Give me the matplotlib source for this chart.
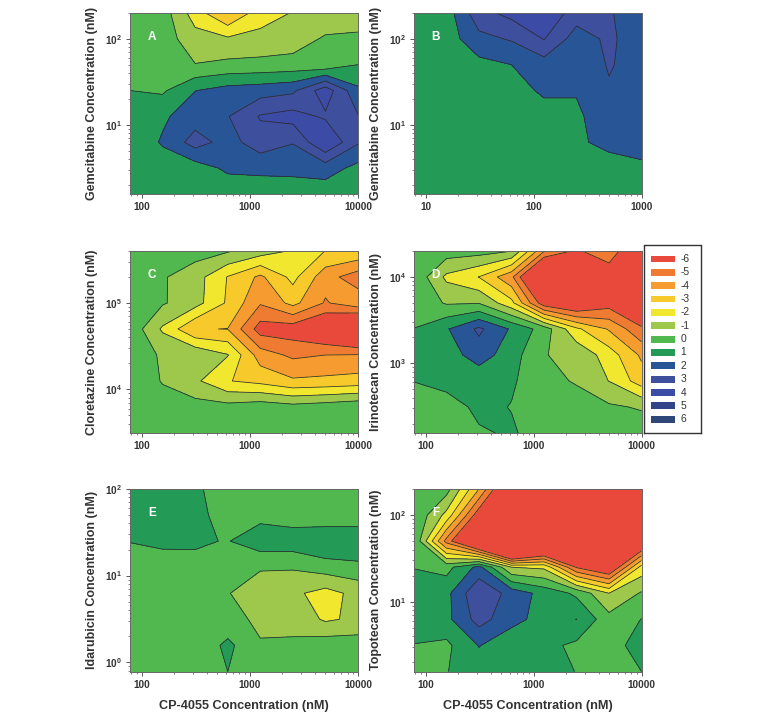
#!/usr/bin/env python3

import numpy as np
import matplotlib
matplotlib.use("Agg")
import matplotlib.pyplot as plt
from matplotlib.patches import Rectangle
from matplotlib.scale import InvertedLogTransform
from matplotlib.ticker import NullFormatter
from matplotlib.transforms import blended_transform_factory

plt.rcParams["font.family"] = ["Liberation Sans", "DejaVu Sans"]
plt.rcParams["mathtext.fontset"] = "custom"
plt.rcParams["mathtext.rm"] = "Liberation Sans:bold"
plt.rcParams["mathtext.bf"] = "Liberation Sans:bold"

cp4055 = [78, 156, 312, 625, 1250, 2500, 5000, 10000]
cp4055_b = [7.8, 15.6, 31.25, 62.5, 125, 250, 500, 1000]

gem_y = [200, 100, 50, 25, 12.5, 6.25, 3.125, 1.56]
clor_y = [400000, 200000, 100000, 50000, 25000, 12500, 6250, 3125]
iri_y = [20000, 10000, 5000, 2500, 1250, 625, 312, 156]
ida_y = [100, 50, 25, 12.5, 6.25, 3.125, 1.56, 0.78]
topo_y = [200, 100, 50, 25, 12.5, 6.25, 3.125, 1.56]

z_a = [
    [0.5, 0.5, -1.5, -3.05, -1.45, -0.95, -0.7, -0.5],
    [0.6, 0.5, -0.6, -0.85, -0.7, -0.5, 0.13, 0.18],
    [0.7, 0.65, 0.03, 0.24, 0.3, 0.38, 0.25, 1.0],
    [1.0, 0.85, 1.98, 2.4, 2.55, 2.8, 4.6, 2.2],
    [1.2, 1.85, 2.5, 2.95, 4.09, 4.4, 3.85, 3.05],
    [1.3, 2.1, 3.44, 2.6, 3.55, 3.05, 5.0, 3.1],
    [1.3, 1.5, 1.5, 2.2, 2.25, 2.3, 2.47, 1.7],
    [1.2, 1.3, 1.3, 1.3, 1.4, 1.4, 1.4, 1.25],
]
z_b = [
    [1.3, 1.5, 3.67, 4.3, 4.9, 3.47, 3.1, 2.4],
    [1.3, 1.5, 2.7, 3.1, 4.05, 2.53, 3.19, 2.43],
    [1.3, 1.3, 1.7, 2.0, 2.55, 2.3, 3.08, 2.6],
    [1.3, 1.3, 1.3, 1.5, 2.2, 2.1, 2.9, 2.7],
    [1.3, 1.3, 1.3, 1.3, 1.5, 1.75, 2.84, 2.7],
    [1.3, 1.3, 1.3, 1.3, 1.4, 1.7, 2.5, 2.5],
    [1.3, 1.3, 1.3, 1.3, 1.3, 1.3, 1.2, 1.76],
    [1.3, 1.3, 1.3, 1.3, 1.3, 1.3, 1.3, 1.3],
]
z_c = [
    [0.9, 0.9, 0.4, 0.1, -0.5, -1.1, -2.02, -2.17],
    [0.8, 0.1, -0.55, -2.05, -3.2, -1.7, -3.6, -4.55],
    [0.7, 0.1, -0.6, -2.15, -3.9, -2.7, -4.1, -3.33],
    [0.7, -1.15, -2.95, -3.02, -5.47, -5.6, -6.47, -7.65],
    [0.5, -0.11, -0.15, -0.95, -3.5, -4.2, -4.0, -3.95],
    [0.7, -0.06, -0.8, -1.95, -2.3, -2.85, -2.75, -2.6],
    [0.9, 0.4, 0.4, 0.35, 0.6, 0.35, 0.55, 0.8],
    [0.9, 0.8, 0.8, 0.8, 0.8, 0.8, 0.8, 0.85],
]
z_d = [
    [0.7, 0.5, 0.4, 0.02, -3.9, -5.2, -4.1, -7],
    [0.8, -1.22, -2.02, -3.76, -8.5, -9, -6.05, -8],
    [0.7, -0.1, -0.05, -1.7, -5.7, -6.5, -5.5, -7],
    [1.01, 1.9, 3.2, 1.87, 0.55, -1.8, -3.1, -4.8],
    [1.5, 1.5, 2.5, 1.45, 0.03, -0.2, -1.5, -3.17],
    [1.02, 1.3, 1.28, 1.1, 0.5, -0.15, -1.02, -2.5],
    [0.5, 0.6, 1.2, 0.97, 0.6, 0.75, 0.15, -0.1],
    [0.6, 0.6, 0.9, 1.1, 0.6, 0.6, 0.6, 0.6],
]
z_e = [
    [1.5, 1.5, 1.2, 0.4, 0.5, 0.5, 0.5, 0.5],
    [1.6, 1.6, 1.4, 0.42, 0.7, 0.45, 0.2, 0.2],
    [1.03, 1.3, 1.12, 0.95, 1.6, 1.6, 2.0, 2.0],
    [0.5, 0.33, 0.75, 0.5, 0.1, 0.1, 0.5, 0.7],
    [0.5, 0.5, 0.5, 0.05, -0.57, -0.8, -1.37, -0.7],
    [0.5, 0.5, 0.5, 0.3, -0.18, -0.3, -1.15, -0.8],
    [0.5, 0.5, 0.2, 1.25, 0.07, 0.15, 0.6, 0.55],
    [0.5, 0.5, 0.5, 1.0, 0.3, 0.5, 0.6, 0.5],
]
z_f = [
    [0.7, 0.4, -3, -7.4, -4.9, -7, -7, -7],
    [0.9, -1.3, -5.7, -8, -7, -8, -8, -8],
    [0.95, -4.35, -8.5, -14, -10, -8, -9, -7],
    [0.98, 0.65, 2.3, -1, -1.2, -5.1, -6.5, -1.6],
    [1.3, 1.7, 3.9, 2.6, 1.66, 0.8, -1, 0.1],
    [1.3, 1.73, 3.4, 2.35, 1.6, 2.01, 0.35, 1.02],
    [0.98, 0.78, 2.05, 1.25, 1.3, 0.78, 0.5, 1.5],
    [0.6, 0.98, 1.3, 1.3, 1.3, 0.98, 0.5, 1.0],
]

levels = [-100, -5, -4, -3, -2, -1, 0, 1, 2, 3, 4, 5, 6, 7]
legend_labels = ["-6", "-5", "-4", "-3", "-2", "-1", "0", "1", "2", "3", "4", "5", "6"]
colors = [
    "#e8493a", "#ef7a31", "#f59b2f", "#f8c92a", "#f1e72f", "#9dc84c", "#50b84f",
    "#239b56", "#285596", "#3e4f9e", "#3c4ca6", "#344489", "#2f4778",
]

W, H = 762, 718
TXT = "#333333"


def px_axes(fig, x0, x1, y0, y1):
    return fig.add_axes([x0 / W, 1 - y1 / H, (x1 - x0) / W, (y1 - y0) / H])


def panel(fig, box, x, y, z, letter, ylabel, xticks, yticks, yticklabels, xlabel=None):
    ax = px_axes(fig, *box)
    ax.set_xscale("log")
    ax.set_yscale("log")
    # contour in log10 space so the level crossings are interpolated along the log axes
    from_log = blended_transform_factory(InvertedLogTransform(10), InvertedLogTransform(10))
    to_data = from_log + ax.transData
    lx, ly = np.log10(x), np.log10(y)
    ax.contourf(lx, ly, z, levels=levels, colors=colors, transform=to_data)
    ax.contour(lx, ly, z, levels=levels[1:-1], colors="#2a2a2a", linewidths=0.55,
               negative_linestyles="solid", transform=to_data)
    ax.set_xlim(min(x), max(x))
    ax.set_ylim(min(y), max(y))
    ax.set_xticks(xticks)
    ax.set_xticklabels([str(t) for t in xticks])
    ax.set_yticks(yticks)
    ax.set_yticklabels(yticklabels)
    ax.xaxis.set_minor_formatter(NullFormatter())
    ax.yaxis.set_minor_formatter(NullFormatter())
    ax.tick_params(which="major", length=3, width=0.7, color="#555555", labelsize=7.2,
                   labelcolor=TXT, pad=3)
    ax.tick_params(which="minor", length=1.6, width=0.5, color="#555555")
    for lab in ax.get_xticklabels() + ax.get_yticklabels():
        lab.set_fontweight("bold")
    for s in ax.spines.values():
        s.set_linewidth(0.7)
        s.set_color("#666666")
    ax.set_ylabel(ylabel, fontsize=9, fontweight="bold", color=TXT)
    ax.yaxis.set_label_coords(-0.14, 0.5)
    if xlabel:
        ax.set_xlabel(xlabel, fontsize=9.1, fontweight="bold", color=TXT)
        ax.xaxis.set_label_coords(0.5, -0.157)
    ax.text(0.095, 0.87, letter, transform=ax.transAxes, color="white", fontsize=8.5,
            fontweight="bold", ha="center", va="center")
    return ax


fig = plt.figure(figsize=(W / 100, H / 100), dpi=100, facecolor="white")

ticks_1_2 = [r"$\mathbf{10^{1}}$", r"$\mathbf{10^{2}}$"]
cp_ticks = [100, 1000, 10000]

panel(fig, (130, 358, 13, 194), cp4055, gem_y, z_a, "A",
      "Gemcitabine Concentration (nM)", cp_ticks, [10, 100], ticks_1_2)
panel(fig, (414, 641.5, 13, 194), cp4055_b, gem_y, z_b, "B",
      "Gemcitabine Concentration (nM)", [10, 100, 1000], [10, 100], ticks_1_2)
panel(fig, (130, 358, 251, 433), cp4055, clor_y, z_c, "C",
      "Cloretazine Concentration (nM)", cp_ticks, [10000, 100000],
      [r"$\mathbf{10^{4}}$", r"$\mathbf{10^{5}}$"])
panel(fig, (414, 641.5, 251, 433), cp4055, iri_y, z_d, "D",
      "Irinotecan Concentration (nM)", cp_ticks, [1000, 10000],
      [r"$\mathbf{10^{3}}$", r"$\mathbf{10^{4}}$"])
panel(fig, (130, 358, 489, 671.5), cp4055, ida_y, z_e, "E",
      "Idarubicin Concentration (nM)", cp_ticks, [1, 10, 100],
      [r"$\mathbf{10^{0}}$", r"$\mathbf{10^{1}}$", r"$\mathbf{10^{2}}$"],
      xlabel="CP-4055 Concentration (nM)")
panel(fig, (414, 641.5, 489, 671.5), cp4055, topo_y, z_f, "F",
      "Topotecan Concentration (nM)", cp_ticks, [10, 100], ticks_1_2,
      xlabel="CP-4055 Concentration (nM)")

# colour key on the right of panel D
key = px_axes(fig, 643.5, 700.5, 245.5, 432.5)
key.set_xlim(643.5, 700.5)
key.set_ylim(432.5, 245.5)
key.set_xticks([])
key.set_yticks([])
for s in key.spines.values():
    s.set_linewidth(1.0)
    s.set_color("#333333")
for i, (lab, col) in enumerate(zip(legend_labels, colors)):
    yc = 259 + i * 13.35
    key.add_patch(Rectangle((651, yc - 3.4), 23.5, 6.8, facecolor=col, edgecolor="none"))
    key.text(680.5, yc, lab, fontsize=7.4, color=TXT, va="center", ha="left")

plt.savefig("out.png", dpi=100)
plt.close()
